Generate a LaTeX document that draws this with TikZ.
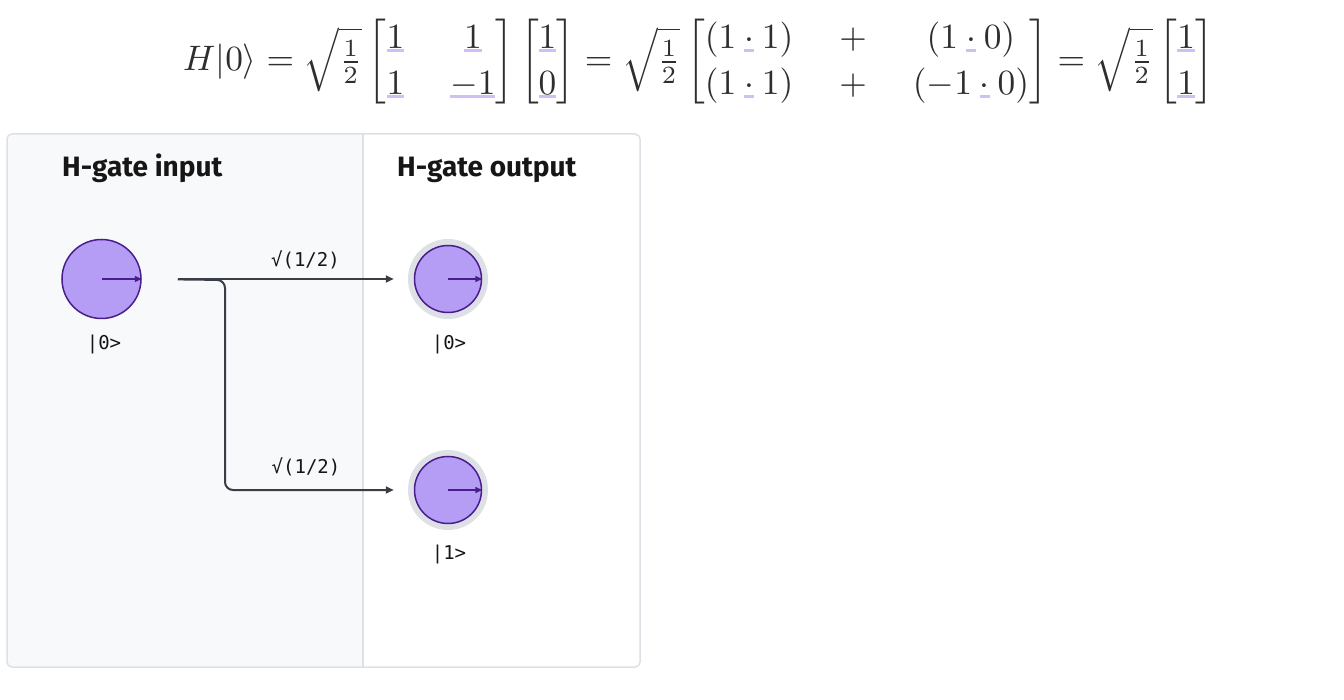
\documentclass[tikz,border=0pt]{standalone}
\usepackage{amsmath}
\usepackage{graphicx}
\usepackage{fontspec}
\setsansfont{Fira Sans}
\setmonofont{DejaVu Sans Mono}
\usetikzlibrary{arrows.meta}
\definecolor{panelborder}{HTML}{DDE1E6}
\definecolor{leftbg}{HTML}{F8F9FB}
\definecolor{qfill}{HTML}{B59DF6}
\definecolor{qdark}{HTML}{491D8B}
\definecolor{halo}{HTML}{DDE1E6}
\definecolor{connc}{HTML}{393E44}
\definecolor{txt}{HTML}{161616}
\definecolor{mathc}{HTML}{2E2E2E}
\definecolor{hlc}{HTML}{D0BFF5}
\newcommand\hlu[1]{\setbox0=\hbox{$#1$}\rlap{\textcolor{hlc}{\rule[-0.11em]{\wd0}{0.09em}}}\box0}
\begin{document}
\begin{tikzpicture}[x=1pt,y=-1pt,
  qbase/.style={circle, fill=qfill, draw=qdark, line width=1.5pt, inner sep=0pt},
  qin/.style={qbase, minimum size=79pt},
  qout/.style={qbase, minimum size=67pt, preaction={draw=halo, line width=13pt}},
  parrow/.style={draw=qdark, line width=1.5pt, -{Triangle[length=7pt,width=6pt]}},
  conn/.style={draw=connc, line width=2pt, -{Triangle[length=8pt,width=7pt]}},
  lbl/.style={font=\ttfamily\fontsize{19}{22}\selectfont, text=txt, inner sep=0pt},
  title/.style={font=\sffamily\bfseries\fontsize{28}{32}\selectfont, text=txt, inner sep=0pt, anchor=base west},
  eqn/.style={font=\fontsize{10}{12}\selectfont, text=mathc, inner sep=0pt}
]
\useasboundingbox (0,0) rectangle (1344,700);
\fill[white] (0,0) rectangle (1344,700);
% equation
\node[eqn] (eq) at (698.5,62) {\scalebox{3.54}{\setlength{\arraycolsep}{6.5pt}\renewcommand{\arraystretch}{1.08}$H|0\rangle = \sqrt{\frac12}\begin{bmatrix}\hlu{1} & \hlu{1}\\ \hlu{1} & \hlu{-1}\end{bmatrix}\begin{bmatrix}\hlu{1}\\ \hlu{0}\end{bmatrix} = \sqrt{\frac12}\begin{bmatrix}(1\mathbin{\hlu{\cdot}}1) & + & (1\mathbin{\hlu{\cdot}}0)\\ (1\mathbin{\hlu{\cdot}}1) & + & (-1\mathbin{\hlu{\cdot}}0)\end{bmatrix} = \sqrt{\frac12}\begin{bmatrix}\hlu{1}\\ \hlu{1}\end{bmatrix}$}};
% panel
\begin{scope}
  \clip[rounded corners=5pt] (7,134) rectangle (640,667);
  \fill[leftbg] (7,134) rectangle (363,667);
\end{scope}
\draw[panelborder, line width=1.5pt] (363,134) -- (363,667);
\draw[panelborder, line width=1.5pt, rounded corners=5pt] (7,134) rectangle (640,667);
% titles
\node[title] (tin) at (62,177) {H-gate input};
\node[title] (tout) at (397,177) {H-gate output};
% qubits
\node[qin] (in0) at (101.5,279) {};
\node[qout] (out0) at (448,279) {};
\node[qout] (out1) at (448,490) {};
\draw[parrow] (in0.center) -- (in0.east);
\draw[parrow] (out0.center) -- (out0.east);
\draw[parrow] (out1.center) -- (out1.east);
% state labels
\node[lbl] (s0) at (104,344) {|0>};
\node[lbl] (o0) at (449,344) {|0>};
\node[lbl] (o1) at (449,554) {|1>};
% connectors
\coordinate (split) at (225,280);
\draw[conn, shorten <=36pt, shorten >=20pt] (in0.east) -- (out0.west);
\draw[conn, rounded corners=8pt, shorten <=36pt, shorten >=20pt] (in0.east) -- (split) |- (out1.west);
\node[lbl] (w0) at (305.5,260) {√(1/2)};
\node[lbl] (w1) at (306,467) {√(1/2)};
\end{tikzpicture}
\end{document}
